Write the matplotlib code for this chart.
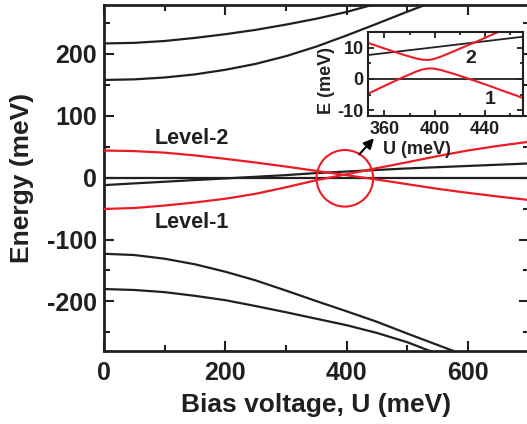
import matplotlib
matplotlib.use("Agg")
import matplotlib.pyplot as plt
from matplotlib.patches import Ellipse
from matplotlib.ticker import MultipleLocator

plt.rcParams['font.family'] = ['Liberation Sans', 'DejaVu Sans']
plt.rcParams['font.weight'] = 'bold'

BLACK = '#231f20'
RED = '#ed1c24'

# ---------------- data ----------------
U_main = [0, 50, 100, 150, 200, 250, 300, 350, 400, 450, 500, 550, 600, 650, 700]

black_upper1 = [217, 218, 221, 226, 232, 239, 247.5, 257, 268, 281.5, 296, 311, 326, 341, 356]
black_upper2 = [158, 159, 162, 167, 174.5, 184, 196.5, 212, 230, 249, 268.4, 287, 305.5, 324, 342]
black_rising = [-12, -9.2, -6.5, -3.8, -1.2, 1.5, 4.2, 7.5, 10, 12.5, 15, 17, 19, 21, 23]
black_flat = [0, 0, 0, 0, 0, 0, 0, 0, 0, 0, 0, 0, 0, 0, 0]
level2 = [44, 43, 40.5, 36, 30.5, 24.5, 18, 11, 4, -3, -10.5, -18, -24.5, -30.5, -36]
level1 = [-50.5, -49, -45, -40, -34, -26, -15.5, -4, 5.5, 15.5, 25, 35, 44, 51.5, 58]
black_lower1 = [-123, -125, -131, -140, -152, -166, -182.5, -199.5, -216, -233, -252, -270.5, -289, -308, -327]
black_lower2 = [-180, -181.5, -185, -191, -198, -207.5, -217.5, -228, -238.5, -251, -266, -285, -304, -323, -342]

U_inset = [345, 355, 365, 375, 385, 390, 395, 400, 405, 415, 425, 435, 445, 455, 465, 475]
inset_upper = [11.86, 10.49, 9.13, 7.81, 6.63, 6.20, 6.10, 6.48, 7.18, 8.85, 10.6, 12.3, 14.1, 15.9, 17.7, 19.5]
inset_lower = [-5.11, -3.19, -1.28, 0.59, 2.32, 3.02, 3.40, 3.30, 2.87, 1.69, 0.37, -0.99, -2.4, -3.9, -5.3, -6.9]
U_inset_black = [345, 400, 475]
inset_black_rising = [7.6, 10.2, 13.8]
inset_black_flat = [0, 0, 0]

main_xticks = [0, 200, 400, 600]
main_yticks = [-200, -100, 0, 100, 200]
main_ytick_labels = ['-200', '-100', '0', '100', '200']
inset_xticks = [360, 400, 440]
inset_yticks = [-10, 0, 10]
inset_ytick_labels = ['-10', '0', '10']

# ---------------- figure ----------------
fig = plt.figure(figsize=(5.27, 4.24), dpi=100)
ax = fig.add_axes([104 / 527, 1 - 350.9 / 424, 424.7 / 527, 346.4 / 424])

lw = 1.6
for y in (black_upper1, black_upper2, black_rising, black_flat, black_lower1, black_lower2):
    ax.plot(U_main, y, color=BLACK, lw=lw, zorder=2)
ax.plot(U_main, level2, color=RED, lw=lw, zorder=3)
ax.plot(U_main, level1, color=RED, lw=lw, zorder=3)

ax.set_xlim(0, 700)
ax.set_ylim(-280, 280)
ax.set_xticks(main_xticks)
ax.set_yticks(main_yticks)
ax.set_yticklabels(main_ytick_labels)
ax.xaxis.set_minor_locator(MultipleLocator(100))
ax.yaxis.set_minor_locator(MultipleLocator(50))
ax.tick_params(which='both', direction='in', top=True, right=True, width=1.5, color=BLACK,
               labelcolor=BLACK, labelsize=18)
ax.tick_params(which='major', length=7)
ax.tick_params(which='minor', length=4.5)
ax.tick_params(axis='y', pad=5)
ax.tick_params(axis='x', pad=7)
for s in ax.spines.values():
    s.set_linewidth(2)
    s.set_color(BLACK)

ax.text(0.5, -0.156, 'Bias voltage, U (meV)', transform=ax.transAxes, ha='center', va='center',
        fontsize=19, fontweight='bold', color=BLACK)
ax.text(-0.193, 0.5, 'Energy (meV)', transform=ax.transAxes, ha='center', va='center',
        rotation=90, fontsize=19, fontweight='bold', color=BLACK)

ax.text(145, 64, 'Level-2', ha='center', va='center', fontsize=15.5, fontweight='bold', color=BLACK)
ax.text(145, -72, 'Level-1', ha='center', va='center', fontsize=15.5, fontweight='bold', color=BLACK)

circ = Ellipse((397, -1), width=93.3, height=91.5, fill=False, edgecolor=RED, lw=1.5, zorder=4)
ax.add_patch(circ)
ax.annotate('', xy=(445, 63.7), xytext=(420.8, 37.8),
            arrowprops=dict(arrowstyle='-|>,head_length=0.6,head_width=0.3', color='black', lw=1.5,
                            shrinkA=0, shrinkB=0), zorder=5)

# ---------------- inset ----------------
axi = fig.add_axes([367.7 / 527, 1 - 115.7 / 424, 154.8 / 527, 83.4 / 424])
axi.set_facecolor('white')
axi.plot(U_inset_black, inset_black_flat, color=BLACK, lw=1.3)
axi.plot(U_inset_black, inset_black_rising, color=BLACK, lw=1.3)
axi.plot(U_inset, inset_upper, color=RED, lw=1.5)
axi.plot(U_inset, inset_lower, color=RED, lw=1.5)
axi.set_xlim(346.7, 470)
axi.set_ylim(-11.8, 15)
axi.set_xticks(inset_xticks)
axi.set_yticks(inset_yticks)
axi.set_yticklabels(inset_ytick_labels)
axi.xaxis.set_minor_locator(MultipleLocator(20))
axi.yaxis.set_minor_locator(MultipleLocator(5))
axi.tick_params(which='both', direction='in', top=True, right=True, width=1.3, color=BLACK,
                labelcolor=BLACK, labelsize=13)
axi.tick_params(which='major', length=4)
axi.tick_params(which='minor', length=2.5)
axi.tick_params(axis='y', pad=3)
axi.tick_params(axis='x', pad=4)
for s in axi.spines.values():
    s.set_linewidth(1.5)
    s.set_color(BLACK)
axi.text(0.32, -0.41, 'U (meV)', transform=axi.transAxes, ha='center', va='center',
         fontsize=13, fontweight='bold', color=BLACK)
axi.text(-0.265, 0.42, 'E (meV)', transform=axi.transAxes, ha='center', va='center',
         rotation=90, fontsize=13, fontweight='bold', color=BLACK)
axi.text(428.5, 6.7, '2', ha='center', va='center', fontsize=14, fontweight='bold', color=BLACK)
axi.text(444, -6.5, '1', ha='center', va='center', fontsize=14, fontweight='bold', color=BLACK)

fig.savefig('out.png', dpi=100)
